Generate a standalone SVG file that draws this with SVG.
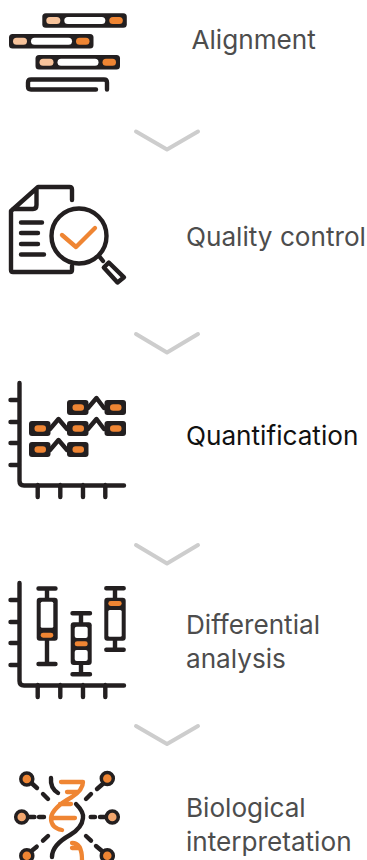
<svg xmlns="http://www.w3.org/2000/svg" width="367" height="860" viewBox="0 0 367 860">
<style>
text{font-family:"Inter","Liberation Sans",sans-serif;font-size:26.150px;fill:#4d4d4d}
.k{fill:none;stroke:#231f20;stroke-width:4.400;stroke-linecap:round;stroke-linejoin:round}
.o{fill:none;stroke:#ef8533;stroke-width:4.300;stroke-linecap:round;stroke-linejoin:round}
.d{fill:#231f20}.of{fill:#ef8533}.pf{fill:#f7c39b}.pm{fill:#f2a66e}.w{fill:#fff}
.ch{fill:none;stroke:#cdcdcd;stroke-width:4;stroke-linecap:round;stroke-linejoin:round}
.n{stroke:#231f20;stroke-width:3.500}
</style>
<defs>
<g id="bar"><rect width="84.500" height="14.500" rx="3.500" class="d"/><rect x="4" y="3.800" width="14" height="7" rx="3.500" class="pf"/><rect x="22" y="3.800" width="41" height="7" rx="3.500" class="w"/><rect x="67" y="3.800" width="13.500" height="7" rx="3.500" class="of"/></g>
<g id="q"><rect width="21.500" height="15" rx="3" class="d"/><rect x="5.500" y="4.300" width="11.500" height="6.400" rx="3.200" class="of"/></g>
<g id="axes"><path class="k" d="M19.500,0V98Q19.500,102.500 24,102.500H124M10.500,17H19M10.500,39H19M10.500,60H19M10.500,82H19M37.700,102V114M60.300,102V114M83,102V114M105.300,102V114"/></g>
</defs>
<g id="connectors">
<path class="ch" d="M136,131.500L167,149.500L198,131.500"/>
<path class="ch" d="M136,334L167,352.500L198,334"/>
<path class="ch" d="M136,545L167,563.500L198,545"/>
<path class="ch" d="M136,726L167,744L198,726"/>
</g>
<g id="alignment">
<use href="#bar" x="42.300" y="13.300"/><use href="#bar" x="9" y="34"/><use href="#bar" x="35.500" y="55"/>
<path class="k" d="M96,89.500H31Q28,89.500 28,86.500V82.500Q28,79.500 31,79.500H104Q107,79.500 107,82.500V89.500"/>
<text x="191.500" y="49">Alignment</text>
</g>
<g id="quality-control">
<path class="k" d="M72,200V189.500Q72,187 69.500,187H38L11,211V270Q11,272 13,272H70Q72,272 72,270V266M36.500,189V205Q36.500,209 33,209H13M21,222.500H42M21,233H38M21,244H38M21,254.500H44"/>
<circle class="k" cx="79" cy="236" r="27.500" style="fill:#fff"/>
<path class="k" d="M99,256L103,261"/>
<path class="k" d="M103.800,267.500L108.800,262.500L124,277.300L117.500,282.500Z"/>
<path class="o" d="M62,235L76,247L95,228"/>
<text x="186" y="246">Quality control</text>
</g>
<g id="quantification">
<use href="#axes" x="0" y="383"/>
<path class="k" d="M50,429L58.500,419L67,429M88,429L96.500,419L104,429M88,408L96.500,398L104,408M50,450L58.500,440L67,450"/>
<use href="#q" x="67" y="400"/><use href="#q" x="104.500" y="400"/>
<use href="#q" x="29" y="421"/><use href="#q" x="67" y="421"/><use href="#q" x="104.500" y="421"/>
<use href="#q" x="29" y="442"/><use href="#q" x="67" y="442"/>
<text x="186" y="445" style="fill:#111">Quantification</text>
</g>
<g id="differential-analysis">
<use href="#axes" x="0" y="583"/>
<path class="k" d="M38.500,588.500H55.500M47,588.500V599M47,640V664M38.500,664H55.500M72.500,613.300H90M81,613.300V624M81,665V674.300M72.500,674.300H90M106.300,588.300H123.700M115,588.300V600M115,640V649.700M106.300,649.700H123.700"/>
<rect class="d" x="36.700" y="597.700" width="21" height="43" rx="3"/>
<rect class="d" x="70.700" y="622.300" width="21" height="42.700" rx="3"/>
<rect class="d" x="104.300" y="597.700" width="21.400" height="43" rx="3"/>
<rect class="w" x="40.700" y="601.700" width="12.600" height="26" rx="1.500"/>
<rect class="w" x="74.700" y="626.700" width="13" height="11.300" rx="2"/>
<rect class="w" x="74.700" y="650" width="13" height="11" rx="2"/>
<rect class="w" x="108.300" y="610" width="13.400" height="26.700" rx="1.500"/>
<rect class="of" x="40.700" y="632.700" width="12.600" height="5" rx="2.400"/>
<rect class="of" x="74.700" y="641.300" width="13" height="5" rx="2.400"/>
<rect class="of" x="108.300" y="601" width="13.400" height="5" rx="2.400"/>
<text x="186" y="634">Differential</text>
<text x="186" y="668">analysis</text>
</g>
<g id="biological-interpretation">
<path class="k" d="M32,783.500L37,788M102.700,784L97,789M31.500,851L36.700,846.700M102,851L96,846M43,794L48,799M91,794L86,799M39,817H44M90.700,817H95M29,817H34.500M100,817H105M48,836L43,840.700M86,836L91,840.700"/>
<path class="k" d="M51,778Q50,788 58,793M76,804Q84,812 83,818Q82,828 70,835Q52,845 52,857"/>
<path class="o" d="M61,782H83Q83,790 72,797Q52,808 51,818Q51,828 62,830M67,792H78M60,804H71M52,818H75M72,843Q82,843 82,860M72,848H80"/>
<circle cx="26.800" cy="779" r="6" class="of n"/>
<circle cx="107.300" cy="778.500" r="6" class="of n"/>
<circle cx="21.700" cy="817" r="6" class="pm n"/>
<circle cx="112.300" cy="817" r="6" class="pm n"/>
<circle cx="26.800" cy="855.700" r="6" class="of n"/>
<circle cx="107.300" cy="855.700" r="6" class="of n"/>
<text x="186" y="817">Biological</text>
<text x="186" y="851">interpretation</text>
</g>
</svg>
